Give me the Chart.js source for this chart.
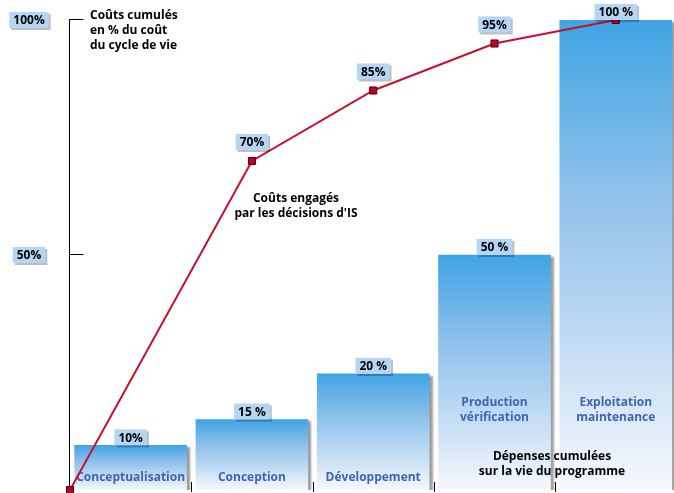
<!DOCTYPE html>
<html>
<head>
<meta charset="utf-8">
<script src="https://cdn.jsdelivr.net/npm/chart.js@4"></script>
<style>
  body { margin: 0; background: #fff; }
  #wrap { width: 674px; height: 493px; }
</style>
</head>
<body>
<div id="wrap"><canvas id="chart" width="674" height="493"></canvas></div>
<script>
// phases du cycle de vie
const categories = [["Conceptualisation"], ["Conception"], ["Développement"], ["Production", "vérification"], ["Exploitation", "maintenance"]];
const spentValues = [9.5, 15, 24.7, 50, 100];
const spentLabels = ["10%", "15 %", "20 %", "50 %", "100 %"];
const committedX = [-0.5, 1, 2, 3, 4];
const committedValues = [0, 70, 85, 95, 100];
const committedLabels = ["", "70%", "85%", "95%", ""];
const yTicks = [50, 100];
const yTickLabels = ["50%", "100%"];

const FONT = "'Open Sans', Lato, sans-serif";

function box(ctx, text, cx, bottom) {
  ctx.font = "bold 12px " + FONT;
  const w = ctx.measureText(text).width + 8;
  const h = 16;
  const x = cx - w / 2, y = bottom - h;
  ctx.fillStyle = "rgba(0,0,0,0.25)";
  ctx.fillRect(x + 2, y + 2, w, h);
  ctx.fillStyle = "#b4d5f3";
  ctx.fillRect(x, y, w, h);
  ctx.fillStyle = "#000";
  ctx.textAlign = "center";
  ctx.textBaseline = "middle";
  ctx.fillText(text, cx, y + h / 2 + 1);
}

function lines(ctx, arr, cx, cy, step) {
  arr.forEach((t, i) => ctx.fillText(t, cx, cy + i * step));
}

const decor = {
  id: "decor",
  beforeDatasetDraw(chart, args) {
    if (args.index === 0) {
      const ctx = chart.ctx;
      ctx.save();
      ctx.shadowColor = "rgba(0,0,0,0.4)";
      ctx.shadowOffsetX = 3;
      ctx.shadowOffsetY = 2;
      ctx.shadowBlur = 2;
    }
  },
  afterDatasetDraw(chart, args) {
    if (args.index === 0) {
      const ctx = chart.ctx;
      ctx.restore();
      const xs = chart.scales.x, ys = chart.scales.y;
      const bottom = ys.getPixelForValue(0);
      // axe vertical et graduations
      ctx.save();
      ctx.strokeStyle = "#000";
      ctx.lineWidth = 1;
      const ax = Math.round(xs.getPixelForValue(-0.5)) - 0.5;
      ctx.beginPath();
      ctx.moveTo(ax, ys.getPixelForValue(100) - 1);
      ctx.lineTo(ax, bottom + 2);
      yTicks.forEach(v => {
        const y = Math.round(ys.getPixelForValue(v)) - 0.5;
        ctx.moveTo(ax, y);
        ctx.lineTo(ax + 14, y);
      });
      for (let i = 0; i < categories.length - 1; i++) {
        const x = Math.round(xs.getPixelForValue(i + 0.5)) + 0.5;
        ctx.moveTo(x, bottom - 8);
        ctx.lineTo(x, bottom + 2);
      }
      ctx.stroke();
      // noms des phases dans les barres
      ctx.font = "bold 12px " + FONT;
      ctx.fillStyle = "#3f66b3";
      ctx.textAlign = "center";
      ctx.textBaseline = "middle";
      categories.forEach((c, i) => {
        const cx = xs.getPixelForValue(i);
        const cy = c.length > 1 ? bottom - 87 : bottom - 12;
        lines(ctx, c, cx, cy, 15);
      });
      ctx.restore();
    }
  },
  afterDraw(chart) {
    const ctx = chart.ctx;
    const xs = chart.scales.x, ys = chart.scales.y;
    ctx.save();
    spentValues.forEach((v, i) => {
      box(ctx, spentLabels[i], xs.getPixelForValue(i), ys.getPixelForValue(v));
    });
    committedValues.forEach((v, i) => {
      if (committedLabels[i]) box(ctx, committedLabels[i], xs.getPixelForValue(committedX[i]), ys.getPixelForValue(v) - 11);
    });
    yTicks.forEach((v, i) => {
      box(ctx, yTickLabels[i], 29, ys.getPixelForValue(v) + 8);
    });
    ctx.font = "bold 12px " + FONT;
    ctx.fillStyle = "#000";
    ctx.textAlign = "left";
    ctx.textBaseline = "middle";
    lines(ctx, ["Coûts cumulés", "en % du coût", "du cycle de vie"], 90, 16, 15);
    ctx.textAlign = "center";
    lines(ctx, ["Coûts engagés", "par les décisions d'IS"], 296, 199, 15);
    lines(ctx, ["Dépenses cumulées", "sur la vie du programme"], 552, 457, 15);
    ctx.restore();
  }
};

function barGradient(context) {
  const chart = context.chart;
  const ys = chart.scales.y;
  if (!chart.chartArea || !ys || context.parsed === undefined) return "#6cb3e8";
  const top = ys.getPixelForValue(context.parsed.y);
  const bottom = ys.getPixelForValue(0);
  const g = chart.ctx.createLinearGradient(0, top, 0, bottom);
  g.addColorStop(0, "#3fa4e4");
  g.addColorStop(0.35, "#8bbfea");
  g.addColorStop(0.55, "#abcff0");
  g.addColorStop(1, "#f5f8fc");
  return g;
}

new Chart(document.getElementById("chart"), {
  data: {
    datasets: [
      {
        type: "bar",
        data: spentValues.map((v, i) => ({ x: i, y: v })),
        backgroundColor: barGradient,
        borderWidth: 0,
        barThickness: 112,
        order: 2
      },
      {
        type: "line",
        data: committedValues.map((v, i) => ({ x: committedX[i], y: v })),
        borderColor: "#c8102e",
        borderWidth: 2,
        pointStyle: "rect",
        pointRadius: 5,
        pointBackgroundColor: "#c4001f",
        pointBorderColor: "#4a0010",
        pointBorderWidth: 1,
        tension: 0,
        clip: false,
        order: 1
      }
    ]
  },
  options: {
    responsive: false,
    animation: false,
    layout: { autoPadding: false, padding: { left: 70, right: 0, top: 20, bottom: 3 } },
    plugins: { legend: { display: false }, tooltip: { enabled: false } },
    scales: {
      x: { type: "linear", min: -0.5, max: 4.48, offset: false, display: false },
      y: { min: 0, max: 100, display: false }
    }
  },
  plugins: [decor]
});
</script>
</body>
</html>
